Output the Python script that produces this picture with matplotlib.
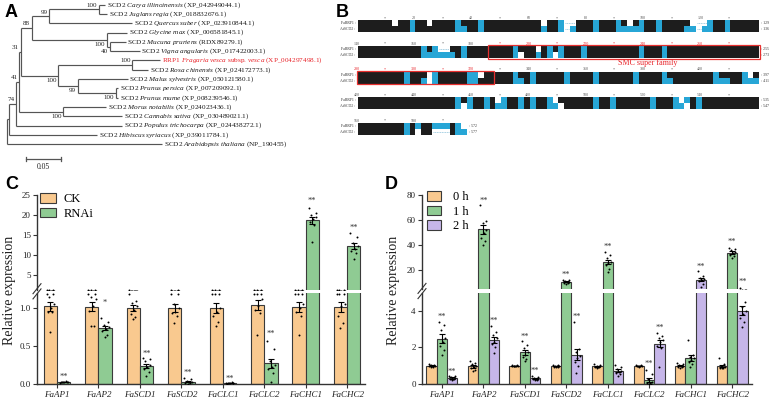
import numpy as np
import matplotlib
matplotlib.use('Agg')
import matplotlib.pyplot as plt
from matplotlib.patches import Rectangle, Patch
from matplotlib.lines import Line2D
from itertools import groupby

plt.rcParams['font.family'] = ['Liberation Serif', 'DejaVu Serif']
plt.rcParams['mathtext.fontset'] = 'custom'
plt.rcParams['mathtext.rm'] = 'Liberation Serif'
plt.rcParams['mathtext.it'] = 'Liberation Serif:italic'

# ======================= DATA =======================
# ---- Panel A: phylogenetic tree ----
tree_node = ['root', 'Nhib', 'N74', 'N41', 'N31', 'N88', 'N99', 'NCJ', 'Carya', 'Juglans', 'Quercus',
             'NLeg', 'Glycine', 'NMV', 'Mucuna', 'Vigna', 'NRos', 'NRR', 'RRP1', 'Rosa', 'NMP', 'Malus',
             'NPP', 'Ppersica', 'Pmume', 'NMC', 'Morus', 'Cannabis', 'Populus', 'Hibiscus', 'Arabidopsis']
tree_parent = [None, 'root', 'Nhib', 'N74', 'N41', 'N31', 'N88', 'N99', 'NCJ', 'NCJ', 'N99',
               'N88', 'NLeg', 'NLeg', 'NMV', 'NMV', 'N31', 'NRos', 'NRR', 'NRR', 'NRos', 'NMP',
               'NMP', 'NPP', 'NPP', 'N41', 'NMC', 'NMC', 'N74', 'Nhib', 'root']
tree_length = [0, 0.0037, 0.0096, 0.0047, 0.0020, 0.0157, 0.0252, 0.0710, 0.0084, 0.0113, 0.1180,
               0.1076, 0.0287, 0.0043, 0.0224, 0.0424, 0.0537, 0.1060, 0.0390, 0.0220, 0.0280, 0.0710,
               0.0540, 0.0030, 0.0030, 0.0630, 0.0610, 0.0840, 0.1520, 0.1250, 0.2220]
tree_boot = {'N74': '74', 'N41': '41', 'N31': '31', 'N88': '88', 'N99': '99', 'NCJ': '100',
             'NLeg': '100', 'NMV': '40', 'NRos': '100', 'NRR': '100', 'NMP': '99', 'NPP': '100',
             'NMC': '100'}
boot_below = ['NLeg', 'NMV', 'NRos', 'NMP', 'NPP', 'NMC']
leaf_label = {
    'Carya': r'SCD2 $\mathit{Carya\ illinoinensis}$ (XP_042949044.1)',
    'Juglans': r'SCD2 $\mathit{Juglans\ regia}$ (XP_018832676.1)',
    'Quercus': r'SCD2 $\mathit{Quercus\ suber}$ (XP_023910844.1)',
    'Glycine': r'SCD2 $\mathit{Glycine\ max}$ (XP_006581845.1)',
    'Mucuna': r'SCD2 $\mathit{Mucuna\ pruriens}$ (RDX89279.1)',
    'Vigna': r'SCD2 $\mathit{Vigna\ angularis}$ (XP_017422003.1)',
    'RRP1': r'RRP1 $\mathit{Fragaria\ vesca}$ subsp. $\mathit{vesca}$ (XP_004297498.1)',
    'Rosa': r'SCD2 $\mathit{Rosa\ chinensis}$ (XP_024172773.1)',
    'Malus': r'SCD2 $\mathit{Malus\ sylvestris}$ (XP_050121580.1)',
    'Ppersica': r'SCD2 $\mathit{Prunus\ persica}$ (XP_007209092.1)',
    'Pmume': r'SCD2 $\mathit{Prunus\ mume}$ (XP_008239546.1)',
    'Morus': r'SCD2 $\mathit{Morus\ notabilis}$ (XP_024023436.1)',
    'Cannabis': r'SCD2 $\mathit{Cannabis\ sativa}$ (XP_030489021.1)',
    'Populus': r'SCD2 $\mathit{Populus\ trichocarpa}$ (XP_024438272.1)',
    'Hibiscus': r'SCD2 $\mathit{Hibiscus\ syriacus}$ (XP_039011784.1)',
    'Arabidopsis': r'SCD2 $\mathit{Arabidopsis\ thaliana}$ (NP_190455)',
}
highlight_leaf = 'RRP1'
scale_bar = 0.05

# ---- Panel B: alignment (k identical, c similar, w different, - gap) ----
aln_top = ["kkkkkkwkkc kkwkkkkckk kckkkkkkkk kkwkkc--kk kckkkckwkc kkckkkkkw- -ckkckkkkk",
           "kkkkkkkkkk kckc--kkck kkkkkkkckk kwkckckkkc kkkkkkkkkc kkkckkkkkk kkkkkkkkkk",
           "kkkkkkkkck kkwckkkkkc cwkkkkkckk ckkkkkckkk kckkkkkkck kkkckkkkkk kkckkkkcwk",
           "kkkkkkkkkk kkkkkkkckc kkckwckkck ckkcwkkkkk kckkckkkkk kckkkcwckc kkkkkkkkkk",
           "kkkkkkkkck ckkccckcw"]
aln_bot = ["kkkkkkkkkc kkkkkkkcck kckkkkkkkk kkckkc-ckk kckkkccccc kkckkkkcc- cckkckkkkk",
           "kkkkkkkkkk kcccccckck kkkkkkkcwk kckcwckkkc kkkkkkkkkc kkkckkkkkk kkkkkkkkkk",
           "kkkkkkkkck kcwckkkkkc ckkkkkkcck ckkkkkckkk kckkkkkkck kkkcckkkkk kkccckkccc",
           "kkkkkkkkkk kkkkkkkcwc kkckcckkck ckkccwkkkk kckkckkkkk kckkkccwkc kkkkkkkkkk",
           "kkkkkkkkck wkk---kcc"]
aln_row_cols = [140, 140, 140, 140, 38]
aln_end_top = [129, 255, 397, 535, 572]
aln_end_bot = [136, 273, 411, 547, 577]
aln_names = ['FaRRP1', 'AtSCD2']
smc_domain = (185.4, 327.6)
smc_label = 'SMC super family'

# ---- Panels C / D: qPCR ----
genes = ['FaAP1', 'FaAP2', 'FaSCD1', 'FaSCD2', 'FaCLC1', 'FaCLC2', 'FaCHC1', 'FaCHC2']

c_labels = ['CK', 'RNAi']
c_ck = [[1.19, 1.19, 1.15, 1.05, 1.00, 0.95, 0.95, 0.69],
        [1.19, 1.19, 1.14, 1.12, 1.02, 0.96, 0.76, 0.76],
        [1.19, 1.09, 1.06, 1.02, 0.98, 0.92, 0.88, 0.86],
        [1.19, 1.19, 1.05, 1.00, 0.95, 0.93, 0.90, 0.80],
        [1.19, 1.19, 1.19, 1.00, 0.95, 0.90, 0.82, 0.76],
        [1.19, 1.19, 1.19, 1.12, 1.02, 0.98, 0.93, 0.65],
        [1.19, 1.19, 1.19, 1.05, 1.00, 0.95, 0.90, 0.65],
        [1.19, 1.19, 1.19, 1.05, 1.02, 0.90, 0.80, 0.74]]
c_rnai = [[0.01, 0.02, 0.02, 0.03, 0.03, 0.02, 0.04, 0.03],
          [0.87, 0.82, 0.78, 0.75, 0.72, 0.70, 0.65, 0.62],
          [0.34, 0.33, 0.30, 0.25, 0.22, 0.20, 0.16, 0.10],
          [0.08, 0.06, 0.04, 0.03, 0.02, 0.01, 0.01, 0.00],
          [0.01, 0.01, 0.01, 0.01, 0.01, 0.00, 0.02, 0.01],
          [0.56, 0.46, 0.30, 0.25, 0.22, 0.20, 0.15, 0.02],
          [21.7, 20.5, 20.0, 19.6, 18.9, 18.2, 17.5, 13.3],
          [15.4, 14.5, 12.9, 12.3, 11.6, 10.9, 10.5, 9.0]]
c_sig = ['**', '*', '**', '**', '**', '**', '**', '**']
c_sig_y = [0.09, 1.07, 0.40, 0.14, 0.07, 0.66, 23.5, 16.9]
c_lo_lim, c_hi_lim = (0, 1.2), (1.25, 25)

d_labels = ['0 h', '1 h', '2 h']
d_0h = [[1.10, 1.05, 1.02, 1.00, 0.98, 0.96, 0.95, 0.92],
        [1.23, 1.15, 1.10, 1.00, 0.92, 0.85, 0.75, 0.69],
        [1.04, 1.02, 1.01, 1.00, 0.99, 0.98, 0.97, 0.96],
        [1.05, 1.02, 1.00, 0.98, 0.97, 0.95, 0.94, 0.93],
        [1.10, 1.05, 1.00, 0.98, 0.95, 0.93, 0.92, 0.90],
        [1.05, 1.03, 1.00, 0.99, 0.98, 0.97, 0.96, 0.94],
        [1.15, 1.10, 1.02, 1.00, 0.98, 0.95, 0.92, 0.90],
        [1.40, 1.10, 1.00, 0.95, 0.92, 0.90, 0.88, 0.85]]
d_1h = [[3.40, 3.20, 2.95, 2.50, 2.30, 2.05, 1.85, 1.60],
        [71.7, 59.4, 58.0, 52.0, 50.0, 46.0, 43.0, 40.4],
        [2.35, 2.12, 1.95, 1.75, 1.60, 1.45, 1.35, 1.23],
        [12.5, 11.8, 11.2, 10.8, 10.4, 10.0, 9.5, 8.8],
        [34.6, 32.5, 29.4, 26.8, 25.5, 24.2, 21.0, 18.4],
        [0.75, 0.55, 0.28, 0.12, 0.07, 0.04, 0.02, 0.01],
        [2.40, 1.60, 1.50, 1.40, 1.30, 1.20, 1.10, 0.95],
        [37.8, 37.0, 36.0, 34.5, 33.5, 32.5, 31.5, 30.0]]
d_2h = [[0.45, 0.42, 0.38, 0.33, 0.30, 0.28, 0.25, 0.20],
        [3.15, 2.85, 2.70, 2.50, 2.30, 2.20, 2.00, 1.70],
        [0.42, 0.38, 0.33, 0.30, 0.28, 0.26, 0.24, 0.20],
        [3.40, 1.90, 1.75, 1.55, 1.40, 1.20, 1.00, 0.60],
        [1.05, 0.95, 0.80, 0.72, 0.68, 0.60, 0.55, 0.45],
        [2.80, 2.65, 2.50, 2.40, 2.30, 2.10, 1.95, 0.95],
        [19.0, 15.5, 14.0, 13.0, 12.0, 11.0, 9.0, 6.5],
        [5.40, 4.50, 4.20, 4.00, 3.80, 3.60, 3.40, 3.10]]
d_sig_1h = ['**', '**', '**', '**', '**', '**', '', '**']
d_sig_1h_y = [3.67, 75.0, 2.59, 16.3, 38.5, 1.12, 0, 42.5]
d_sig_2h = ['**', '**', '**', '**', '', '**', '**', '**']
d_sig_2h_y = [0.65, 3.44, 0.69, 3.67, 0, 3.04, 22.9, 10.6]
d_lo_lim, d_hi_lim = (0, 5), (5, 80)

# ======================= STYLE =======================
W, H = 777, 401
COL_OR, COL_GR, COL_PU = '#F9C98F', '#8FCB93', '#C6B6E9'
EDGE = '#3a3a3a'
fig = plt.figure(figsize=(W / 100, H / 100), dpi=100)


def px_axes(x0, y0, x1, y1):
    return fig.add_axes([x0 / W, 1 - y1 / H, (x1 - x0) / W, (y1 - y0) / H])


def panel_letter(x, y, s):
    fig.text(x / W, 1 - y / H, s, fontsize=13, fontweight='bold', family='Liberation Sans',
             ha='left', va='top')


# ======================= PANEL A =======================
axA = px_axes(0, 0, 335, 175)
axA.axis('off')
px_unit = 700.0
axA.set_xlim(-6.7 / px_unit, (335 - 6.7) / px_unit)
axA.set_ylim((175 - 4.7) / 9.3, -4.7 / 9.3)

children = {n: [] for n in tree_node}
for n, p in zip(tree_node, tree_parent):
    if p is not None:
        children[p].append(n)
blen = dict(zip(tree_node, tree_length))
depth, ypos, leaves = {}, {}, []


def set_depth(n, d):
    depth[n] = d
    for c in children[n]:
        set_depth(c, d + blen[c])


def set_y(n):
    if not children[n]:
        ypos[n] = len(leaves)
        leaves.append(n)
    else:
        for c in children[n]:
            set_y(c)
        ypos[n] = (ypos[children[n][0]] + ypos[children[n][-1]]) / 2


set_depth('root', 0.0)
set_y('root')
tcol = '#555555'
for n in tree_node:
    ch = children[n]
    if not ch:
        continue
    axA.plot([depth[n], depth[n]], [ypos[ch[0]], ypos[ch[-1]]], color=tcol, lw=0.85,
             solid_capstyle='butt')
    for c in ch:
        axA.plot([depth[n], depth[c]], [ypos[c], ypos[c]], color=tcol, lw=0.85,
                 solid_capstyle='butt')
    if n in tree_boot:
        below = n in boot_below
        axA.text(depth[n] - 0.0025, ypos[n] + (0.22 if below else -0.18), tree_boot[n],
                 fontsize=5.0, ha='right', va='top' if below else 'bottom', color='#222')
for lf in leaves:
    axA.text(depth[lf] + 0.0025, ypos[lf], leaf_label[lf], fontsize=5.2, ha='left', va='center',
             color='#e8242a' if lf == highlight_leaf else '#1a1a1a')
sb_x0, sb_y = 0.0276, 16.62
axA.plot([sb_x0, sb_x0 + scale_bar], [sb_y, sb_y], color=tcol, lw=0.9)
for xx in (sb_x0, sb_x0 + scale_bar):
    axA.plot([xx, xx], [sb_y - 0.2, sb_y + 0.2], color=tcol, lw=0.9)
axA.text(sb_x0 + scale_bar / 2, sb_y + 0.45, f'{scale_bar:g}', fontsize=5.5, ha='center',
         va='top', color='#222')
panel_letter(5, 4, 'A')

# ======================= PANEL B =======================
axB = px_axes(335, 0, 777, 175)
axB.axis('off')
colw = 2.864
axB.set_xlim((335 - 358) / colw, (777 - 358) / colw)
axB.set_ylim(175, 0)
code_col = {'k': '#1d1d1d', 'c': '#27a6d6', 'w': '#ffffff', '-': '#ffffff'}
row0, pitch, lh = 23.3, 25.6, 6.0
row_start = np.concatenate([[0], np.cumsum(aln_row_cols)[:-1]])
total_cols = int(np.sum(aln_row_cols))
for r, (st, sb, ncol) in enumerate(zip(aln_top, aln_bot, aln_row_cols)):
    yt = row0 + pitch * r
    for li, s in enumerate((st, sb)):
        s = s.replace(' ', '')
        cw = ncol / len(s)
        yc = yt + li * lh
        i = 0
        for code, grp in groupby(s):
            nrun = len(list(grp))
            axB.add_patch(Rectangle((i * cw, yc - lh / 2), nrun * cw, lh, facecolor=code_col[code],
                                    edgecolor='none', lw=0))
            if code == '-':
                axB.plot([i * cw + 0.3, (i + nrun) * cw - 0.3], [yc, yc], color='#8fc4dc', lw=0.6,
                         ls=(0, (1.2, 0.8)))
            i += nrun
        axB.text(-0.8, yc, aln_names[li] + ' :', fontsize=2.8, ha='right', va='center',
                 color='#333')
        ends = aln_end_top if li == 0 else aln_end_bot
        axB.text(ncol + 0.8, yc, f': {ends[r]}', fontsize=2.8, ha='left', va='center', color='#333')
for n in range(10, total_cols, 10):
    r = int(np.searchsorted(row_start, n, side='right') - 1)
    local = n - row_start[r]
    if local > aln_row_cols[r] - 0.5:
        continue
    yt = row0 + pitch * r - 5.0
    inside = smc_domain[0] <= n <= smc_domain[1]
    axB.text(local - 0.5, yt, str(n) if n % 20 == 0 else '*', fontsize=3.0, ha='center',
             va='center', color='#e8242a' if inside else '#555')
# SMC domain box
for r in range(len(aln_row_cols)):
    a = max(smc_domain[0], row_start[r]) - row_start[r]
    b = min(smc_domain[1], row_start[r] + aln_row_cols[r]) - row_start[r]
    if b <= a:
        continue
    yt = row0 + pitch * r
    a = a if a > 0 else -0.3
    b = b if b < aln_row_cols[r] else aln_row_cols[r] + 0.3
    axB.add_patch(Rectangle((a, yt - 3.6), b - a, lh + 7.2, facecolor='none',
                            edgecolor='#e8302f', lw=0.9))
axB.text(101, row0 + pitch + 14.4, smc_label, fontsize=5.8, ha='center', va='center',
         color='#e8242a')
panel_letter(336, 4, 'B')


# ======================= PANELS C / D =======================
jit = np.array([-0.28, 0.24, -0.08, 0.30, 0.06, -0.20, 0.16, -0.02])


def style_axes(ax_lo, ax_hi, lo_lim, hi_lim, lo_ticks, hi_ticks, lo_fmt, xlim):
    for ax in (ax_lo, ax_hi):
        ax.set_xlim(*xlim)
        for sp in ('top', 'right'):
            ax.spines[sp].set_visible(False)
        ax.spines['left'].set_linewidth(1.0)
        ax.spines['left'].set_color('#333')
        ax.tick_params(axis='y', length=3, width=0.8, labelsize=6.5, pad=1.5, color='#333',
                       labelcolor='#222')
    ax_hi.spines['bottom'].set_visible(False)
    ax_hi.set_xticks([])
    ax_lo.spines['bottom'].set_linewidth(1.0)
    ax_lo.spines['bottom'].set_color('#333')
    ax_lo.set_ylim(*lo_lim)
    ax_hi.set_ylim(*hi_lim)
    ax_lo.set_yticks(lo_ticks)
    ax_lo.set_yticklabels([lo_fmt.format(t) for t in lo_ticks])
    ax_hi.set_yticks(hi_ticks)
    ax_lo.set_xticks(range(len(genes)))
    ax_lo.set_xticklabels(genes, fontstyle='italic', fontsize=6.5, color='#222')
    ax_lo.tick_params(axis='x', length=3, width=0.8, pad=2, color='#333')
    ax_lo.patch.set_alpha(0)
    ax_hi.patch.set_alpha(0)
    # break marks
    p = ax_lo.get_position()
    xb = p.x0 * W
    yb = (1 - p.y1) * H - 1.5
    for dy in (-2.6, 2.6):
        fig.add_artist(Line2D([(xb - 4) / W, (xb + 4) / W],
                              [1 - (yb + dy + 5) / H, 1 - (yb + dy - 5) / H],
                              color='#333', lw=0.8))


def draw_group(ax_lo, ax_hi, series, colors, width, offsets):
    for pts_list, col, off in zip(series, colors, offsets):
        for i, pts in enumerate(pts_list):
            pts = np.asarray(pts, float)
            m = pts.mean()
            se = pts.std(ddof=1) / np.sqrt(len(pts))
            x = i + off
            for ax in (ax_lo, ax_hi):
                ax.bar(x, m, width, color=col, edgecolor=EDGE, lw=0.8, zorder=2)
                ax.errorbar(x, m, yerr=se, color='black', lw=0.8, capsize=2.0, capthick=0.8,
                            zorder=4)
                ax.scatter(x + jit[:len(pts)] * width, pts, s=2.0, color='black', lw=0,
                           zorder=5)


def draw_sig(ax_lo, ax_hi, xs, labels, ys, lo_top):
    for x, s, y in zip(xs, labels, ys):
        if not s:
            continue
        ax = ax_lo if y <= lo_top else ax_hi
        ax.text(x, y, s, fontsize=6, ha='center', va='center', color='#333', zorder=6)


# ---- C ----
cxlim = (-0.48, 7.43)
axC_lo = px_axes(37, 292.8, 365, 384)
axC_hi = px_axes(37, 195, 365, 290)
cw_ = 0.32
draw_group(axC_lo, axC_hi, [c_ck, c_rnai], [COL_OR, COL_GR], cw_, [-cw_ / 2, cw_ / 2])
draw_sig(axC_lo, axC_hi, np.arange(len(genes)) + cw_ / 2, c_sig, c_sig_y, c_lo_lim[1])
style_axes(axC_lo, axC_hi, c_lo_lim, c_hi_lim, [0.0, 0.5, 1.0], [5, 10, 15, 20, 25], '{:.1f}',
           cxlim)
fig.legend(handles=[Patch(facecolor=c, edgecolor=EDGE, lw=0.8) for c in (COL_OR, COL_GR)],
           labels=c_labels, loc='upper left', bbox_to_anchor=(40 / W, 1 - 193 / H), frameon=False,
           fontsize=9, handlelength=1.3, handleheight=0.8, labelspacing=0.2, handletextpad=0.6,
           borderpad=0, borderaxespad=0)
fig.text(10 / W, 1 - 290 / H, 'Relative expression', rotation=90, fontsize=10, ha='center',
         va='center', color='#222')
panel_letter(5, 176, 'C')

# ---- D ----
dxlim = (-0.48, 7.48)
axD_lo = px_axes(422, 292.5, 752, 384)
axD_hi = px_axes(422, 195, 752, 289)
dw = 0.25
draw_group(axD_lo, axD_hi, [d_0h, d_1h, d_2h], [COL_OR, COL_GR, COL_PU], dw, [-dw, 0, dw])
draw_sig(axD_lo, axD_hi, np.arange(len(genes)), d_sig_1h, d_sig_1h_y, d_lo_lim[1])
draw_sig(axD_lo, axD_hi, np.arange(len(genes)) + dw, d_sig_2h, d_sig_2h_y, d_lo_lim[1])
style_axes(axD_lo, axD_hi, d_lo_lim, d_hi_lim, [0, 2, 4], [20, 40, 60, 80], '{:d}', dxlim)
fig.legend(handles=[Patch(facecolor=c, edgecolor=EDGE, lw=0.8) for c in (COL_OR, COL_GR, COL_PU)],
           labels=d_labels, loc='upper left', bbox_to_anchor=(427 / W, 1 - 191 / H), frameon=False,
           fontsize=9, handlelength=1.15, handleheight=0.8, labelspacing=0.2, handletextpad=0.9,
           borderpad=0, borderaxespad=0)
fig.text(393 / W, 1 - 290 / H, 'Relative expression', rotation=90, fontsize=10, ha='center',
         va='center', color='#222')
panel_letter(385, 176, 'D')

fig.savefig('out.png', dpi=100)
